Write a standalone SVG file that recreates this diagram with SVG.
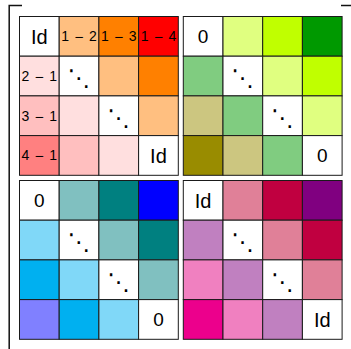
<svg xmlns="http://www.w3.org/2000/svg" width="351" height="349" viewBox="0 0 351 349">
<style>
rect.c{stroke:#1a1a1a;stroke-width:1}
text{font-family:"Liberation Sans",Arial,sans-serif;fill:#000;text-anchor:middle}
.id{font-size:20px}
.z{font-size:19px}
.lb{font-size:14px}
.m{font-family:"DejaVu Sans",sans-serif;font-size:12px}
.dd{font-family:"DejaVu Sans",sans-serif;font-size:23px}
.br{stroke:#111;stroke-width:1.5;fill:none}
</style>
<g id="connectors">
<path class="br" d="M22,5.5 H9.2 V349"/>
<path class="br" d="M341,5.5 H351"/>
</g>
<g id="block1">
<g id="b1r0c0"><rect class="c" x="19.5" y="16.5" width="39.7" height="39.7" fill="#fff"/><text class="id" x="39.35" y="43.5">Id</text></g>
<g id="b1r0c1"><rect class="c" x="59.2" y="16.5" width="39.7" height="39.7" fill="#FFBF80"/><text class="lb" x="79.05" y="41.3" textLength="35.5" lengthAdjust="spacing">1 <tspan class="m">−</tspan> 2</text></g>
<g id="b1r0c2"><rect class="c" x="98.9" y="16.5" width="39.7" height="39.7" fill="#FF8000"/><text class="lb" x="118.75" y="41.3" textLength="35.5" lengthAdjust="spacing">1 <tspan class="m">−</tspan> 3</text></g>
<g id="b1r0c3"><rect class="c" x="138.6" y="16.5" width="39.7" height="39.7" fill="#FF0000"/><text class="lb" x="158.45" y="41.3" textLength="35.5" lengthAdjust="spacing">1 <tspan class="m">−</tspan> 4</text></g>
<g id="b1r1c0"><rect class="c" x="19.5" y="56.2" width="39.7" height="39.7" fill="#FFDFDF"/><text class="lb" x="39.35" y="81" textLength="35.5" lengthAdjust="spacing">2 <tspan class="m">−</tspan> 1</text></g>
<g id="b1r1c1"><rect class="c" x="59.2" y="56.2" width="39.7" height="39.7" fill="#fff"/><text class="dd" x="79.05" y="86">⋱</text></g>
<g id="b1r1c2"><rect class="c" x="98.9" y="56.2" width="39.7" height="39.7" fill="#FFBF80"/></g>
<g id="b1r1c3"><rect class="c" x="138.6" y="56.2" width="39.7" height="39.7" fill="#FF8000"/></g>
<g id="b1r2c0"><rect class="c" x="19.5" y="95.9" width="39.7" height="39.7" fill="#FFBFBF"/><text class="lb" x="39.35" y="120.7" textLength="35.5" lengthAdjust="spacing">3 <tspan class="m">−</tspan> 1</text></g>
<g id="b1r2c1"><rect class="c" x="59.2" y="95.9" width="39.7" height="39.7" fill="#FFDFDF"/></g>
<g id="b1r2c2"><rect class="c" x="98.9" y="95.9" width="39.7" height="39.7" fill="#fff"/><text class="dd" x="118.75" y="125.7">⋱</text></g>
<g id="b1r2c3"><rect class="c" x="138.6" y="95.9" width="39.7" height="39.7" fill="#FFBF80"/></g>
<g id="b1r3c0"><rect class="c" x="19.5" y="135.6" width="39.7" height="39.7" fill="#FF8080"/><text class="lb" x="39.35" y="160.4" textLength="35.5" lengthAdjust="spacing">4 <tspan class="m">−</tspan> 1</text></g>
<g id="b1r3c1"><rect class="c" x="59.2" y="135.6" width="39.7" height="39.7" fill="#FFBFBF"/></g>
<g id="b1r3c2"><rect class="c" x="98.9" y="135.6" width="39.7" height="39.7" fill="#FFDFDF"/></g>
<g id="b1r3c3"><rect class="c" x="138.6" y="135.6" width="39.7" height="39.7" fill="#fff"/><text class="id" x="158.45" y="162.6">Id</text></g>
</g>
<g id="block2">
<g id="b2r0c0"><rect class="c" x="183.3" y="16.5" width="39.7" height="39.7" fill="#fff"/><text class="z" x="203.15" y="43.2">0</text></g>
<g id="b2r0c1"><rect class="c" x="223" y="16.5" width="39.7" height="39.7" fill="#E0FF80"/></g>
<g id="b2r0c2"><rect class="c" x="262.7" y="16.5" width="39.7" height="39.7" fill="#C0FF00"/></g>
<g id="b2r0c3"><rect class="c" x="302.4" y="16.5" width="39.7" height="39.7" fill="#009900"/></g>
<g id="b2r1c0"><rect class="c" x="183.3" y="56.2" width="39.7" height="39.7" fill="#80CC80"/></g>
<g id="b2r1c1"><rect class="c" x="223" y="56.2" width="39.7" height="39.7" fill="#fff"/><text class="dd" x="242.85" y="86">⋱</text></g>
<g id="b2r1c2"><rect class="c" x="262.7" y="56.2" width="39.7" height="39.7" fill="#E0FF80"/></g>
<g id="b2r1c3"><rect class="c" x="302.4" y="56.2" width="39.7" height="39.7" fill="#C0FF00"/></g>
<g id="b2r2c0"><rect class="c" x="183.3" y="95.9" width="39.7" height="39.7" fill="#CCC680"/></g>
<g id="b2r2c1"><rect class="c" x="223" y="95.9" width="39.7" height="39.7" fill="#80CC80"/></g>
<g id="b2r2c2"><rect class="c" x="262.7" y="95.9" width="39.7" height="39.7" fill="#fff"/><text class="dd" x="282.55" y="125.7">⋱</text></g>
<g id="b2r2c3"><rect class="c" x="302.4" y="95.9" width="39.7" height="39.7" fill="#E0FF80"/></g>
<g id="b2r3c0"><rect class="c" x="183.3" y="135.6" width="39.7" height="39.7" fill="#998C00"/></g>
<g id="b2r3c1"><rect class="c" x="223" y="135.6" width="39.7" height="39.7" fill="#CCC680"/></g>
<g id="b2r3c2"><rect class="c" x="262.7" y="135.6" width="39.7" height="39.7" fill="#80CC80"/></g>
<g id="b2r3c3"><rect class="c" x="302.4" y="135.6" width="39.7" height="39.7" fill="#fff"/><text class="z" x="322.25" y="162.3">0</text></g>
</g>
<g id="block3">
<g id="b3r0c0"><rect class="c" x="19.5" y="180.5" width="39.7" height="39.7" fill="#fff"/><text class="z" x="39.35" y="207.2">0</text></g>
<g id="b3r0c1"><rect class="c" x="59.2" y="180.5" width="39.7" height="39.7" fill="#80C0C0"/></g>
<g id="b3r0c2"><rect class="c" x="98.9" y="180.5" width="39.7" height="39.7" fill="#008080"/></g>
<g id="b3r0c3"><rect class="c" x="138.6" y="180.5" width="39.7" height="39.7" fill="#0000FF"/></g>
<g id="b3r1c0"><rect class="c" x="19.5" y="220.2" width="39.7" height="39.7" fill="#80D8F8"/></g>
<g id="b3r1c1"><rect class="c" x="59.2" y="220.2" width="39.7" height="39.7" fill="#fff"/><text class="dd" x="79.05" y="250">⋱</text></g>
<g id="b3r1c2"><rect class="c" x="98.9" y="220.2" width="39.7" height="39.7" fill="#80C0C0"/></g>
<g id="b3r1c3"><rect class="c" x="138.6" y="220.2" width="39.7" height="39.7" fill="#008080"/></g>
<g id="b3r2c0"><rect class="c" x="19.5" y="259.9" width="39.7" height="39.7" fill="#00B0F0"/></g>
<g id="b3r2c1"><rect class="c" x="59.2" y="259.9" width="39.7" height="39.7" fill="#80D8F8"/></g>
<g id="b3r2c2"><rect class="c" x="98.9" y="259.9" width="39.7" height="39.7" fill="#fff"/><text class="dd" x="118.75" y="289.7">⋱</text></g>
<g id="b3r2c3"><rect class="c" x="138.6" y="259.9" width="39.7" height="39.7" fill="#80C0C0"/></g>
<g id="b3r3c0"><rect class="c" x="19.5" y="299.6" width="39.7" height="39.7" fill="#8080FF"/></g>
<g id="b3r3c1"><rect class="c" x="59.2" y="299.6" width="39.7" height="39.7" fill="#00B0F0"/></g>
<g id="b3r3c2"><rect class="c" x="98.9" y="299.6" width="39.7" height="39.7" fill="#80D8F8"/></g>
<g id="b3r3c3"><rect class="c" x="138.6" y="299.6" width="39.7" height="39.7" fill="#fff"/><text class="z" x="158.45" y="326.3">0</text></g>
</g>
<g id="block4">
<g id="b4r0c0"><rect class="c" x="183.3" y="180.5" width="39.7" height="39.7" fill="#fff"/><text class="id" x="203.15" y="207.5">Id</text></g>
<g id="b4r0c1"><rect class="c" x="223" y="180.5" width="39.7" height="39.7" fill="#E08098"/></g>
<g id="b4r0c2"><rect class="c" x="262.7" y="180.5" width="39.7" height="39.7" fill="#C00040"/></g>
<g id="b4r0c3"><rect class="c" x="302.4" y="180.5" width="39.7" height="39.7" fill="#800080"/></g>
<g id="b4r1c0"><rect class="c" x="183.3" y="220.2" width="39.7" height="39.7" fill="#C080C0"/></g>
<g id="b4r1c1"><rect class="c" x="223" y="220.2" width="39.7" height="39.7" fill="#fff"/><text class="dd" x="242.85" y="250">⋱</text></g>
<g id="b4r1c2"><rect class="c" x="262.7" y="220.2" width="39.7" height="39.7" fill="#E08098"/></g>
<g id="b4r1c3"><rect class="c" x="302.4" y="220.2" width="39.7" height="39.7" fill="#C00040"/></g>
<g id="b4r2c0"><rect class="c" x="183.3" y="259.9" width="39.7" height="39.7" fill="#F080C0"/></g>
<g id="b4r2c1"><rect class="c" x="223" y="259.9" width="39.7" height="39.7" fill="#C080C0"/></g>
<g id="b4r2c2"><rect class="c" x="262.7" y="259.9" width="39.7" height="39.7" fill="#fff"/><text class="dd" x="282.55" y="289.7">⋱</text></g>
<g id="b4r2c3"><rect class="c" x="302.4" y="259.9" width="39.7" height="39.7" fill="#E08098"/></g>
<g id="b4r3c0"><rect class="c" x="183.3" y="299.6" width="39.7" height="39.7" fill="#EC008C"/></g>
<g id="b4r3c1"><rect class="c" x="223" y="299.6" width="39.7" height="39.7" fill="#F080C0"/></g>
<g id="b4r3c2"><rect class="c" x="262.7" y="299.6" width="39.7" height="39.7" fill="#C080C0"/></g>
<g id="b4r3c3"><rect class="c" x="302.4" y="299.6" width="39.7" height="39.7" fill="#fff"/><text class="id" x="322.25" y="326.6">Id</text></g>
</g>
</svg>
